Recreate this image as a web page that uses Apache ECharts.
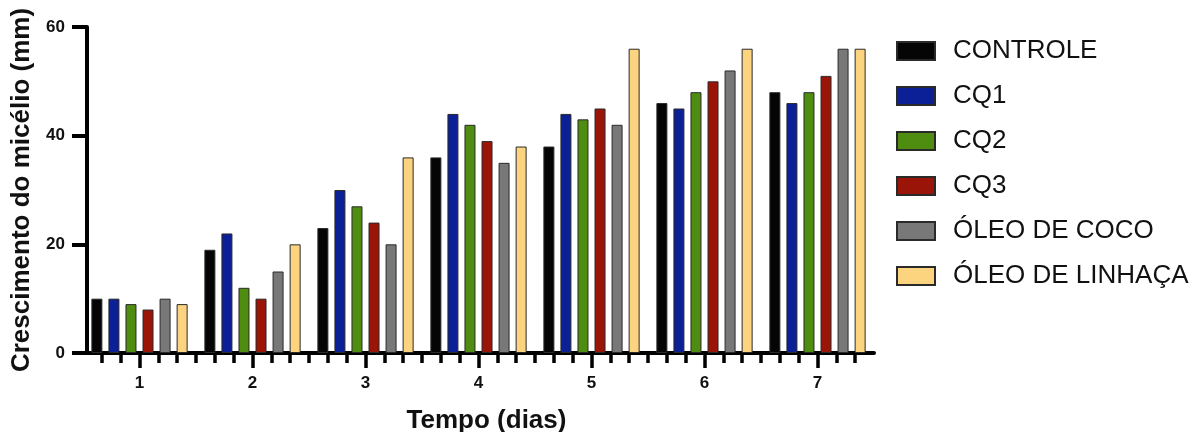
<!DOCTYPE html>
<html>
<head>
<meta charset="utf-8">
<script src="https://cdn.jsdelivr.net/npm/echarts@6/dist/echarts.min.js"></script>
<style>
html,body{margin:0;padding:0;background:#fff;}
#c{width:1196px;height:432px;}
</style>
</head>
<body>
<div id="c"></div>
<script>
var categories = ['1', '2', '3', '4', '5', '6', '7'];
var seriesNames = ['CONTROLE', 'CQ1', 'CQ2', 'CQ3', 'ÓLEO DE COCO', 'ÓLEO DE LINHAÇA'];
var controle = [10, 19, 23, 36, 38, 46, 48];
var cq1 = [10, 22, 30, 44, 44, 45, 46];
var cq2 = [9, 12, 27, 42, 43, 48, 48];
var cq3 = [8, 10, 24, 39, 45, 50, 51];
var oleoCoco = [10, 15, 20, 35, 42, 52, 56];
var oleoLinhaca = [9, 20, 36, 38, 56, 56, 56];
var yTicks = [0, 20, 40, 60];

var colors = ['#050505', '#0b1f96', '#4e8d10', '#9a1508', '#787878', '#fcd37e'];
var values = [controle, cq1, cq2, cq3, oleoCoco, oleoLinhaca];

// minor tick positions (in sixths of a category), excluding the outer ends
var minorTicks = [];
for (var k = 4; k <= 44; k++) minorTicks.push(k);

var font = 'Liberation Sans, Arial, Helvetica, sans-serif';

var series = seriesNames.map(function (n, i) {
  return {
    name: n,
    type: 'bar',
    xAxisIndex: 0,
    yAxisIndex: 0,
    data: values[i],
    barWidth: 11,
    barGap: '55%',
    itemStyle: { color: colors[i], borderColor: '#2a2a2a', borderWidth: 1 }
  };
});

var chart = echarts.init(document.getElementById('c'), null, { renderer: 'canvas' });
chart.setOption({
  backgroundColor: '#ffffff',
  animation: false,
  textStyle: { fontFamily: font },
  grid: { left: 83, top: 27, width: 791, height: 326, containLabel: false, outerBoundsMode: 'none' },
  legend: {
    orient: 'vertical',
    left: 891,
    top: 32,
    itemWidth: 38,
    itemHeight: 18,
    itemGap: 17,
    icon: 'rect',
    data: seriesNames,
    textStyle: { fontFamily: font, fontSize: 26, color: '#111', lineHeight: 28, padding: [0, 0, 0, 13] }
  },
  xAxis: [{
    type: 'category',
    data: categories,
    position: 'bottom',
    name: 'Tempo (dias)',
    nameLocation: 'middle',
    nameGap: 55,
    nameTextStyle: { fontFamily: font, fontSize: 26, fontWeight: 'bold', color: '#111', padding: [0, 0, 0, 16] },
    axisLine: { show: true, lineStyle: { color: '#000', width: 4 } },
    axisTick: { show: true, alignWithLabel: true, length: 15, lineStyle: { color: '#000', width: 3.5 } },
    axisLabel: { fontFamily: font, fontSize: 17, fontWeight: 'bold', color: '#111', margin: 22 },
    splitLine: { show: false }
  }, {
    type: 'value',
    position: 'bottom',
    min: 3,
    max: 45,
    interval: 1,
    axisLine: { show: false },
    axisTick: { show: true, length: 10, customValues: minorTicks, lineStyle: { color: '#000', width: 3.5 } },
    axisLabel: { show: false },
    splitLine: { show: false }
  }],
  yAxis: [{
    type: 'value',
    min: 0,
    max: 60,
    interval: 20,
    offset: -4,
    name: 'Crescimento do micélio (mm)',
    nameLocation: 'middle',
    nameGap: 48,
    nameTextStyle: { fontFamily: font, fontSize: 26, fontWeight: 'bold', color: '#111' },
    axisLine: { show: true, lineStyle: { color: '#000', width: 4 } },
    axisTick: { show: true, length: 15, lineStyle: { color: '#000', width: 4 } },
    axisLabel: { fontFamily: font, fontSize: 17, fontWeight: 'bold', color: '#111', margin: 22, customValues: yTicks },
    splitLine: { show: false }
  }],
  series: series
});
</script>
</body>
</html>
